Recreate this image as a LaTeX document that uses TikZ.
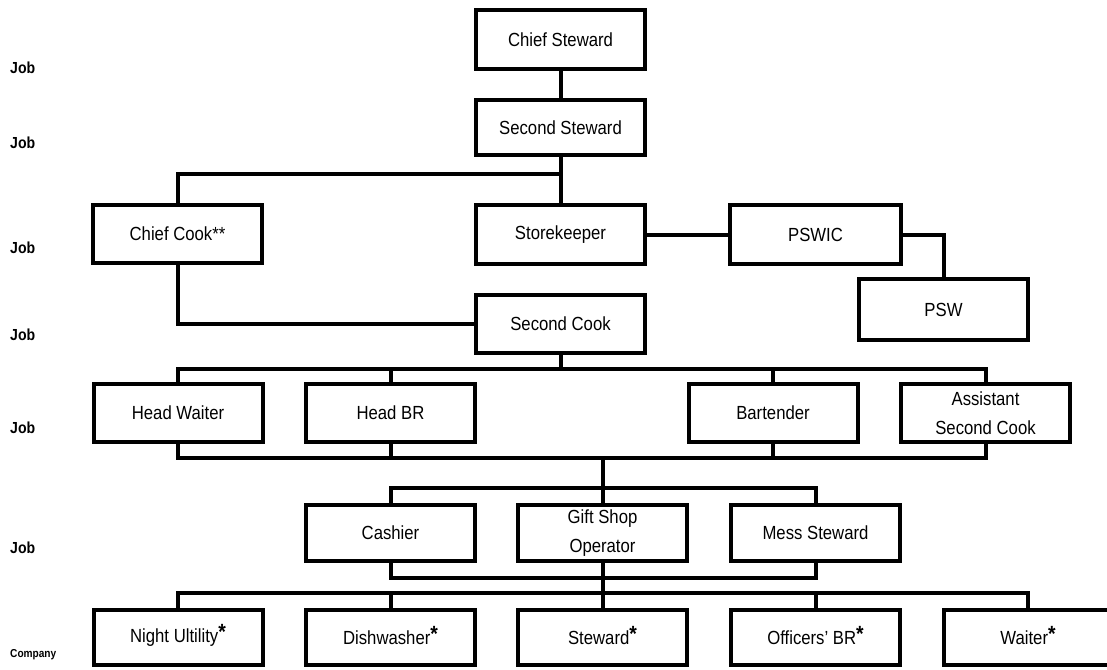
\documentclass[tikz,border=0pt]{standalone}
\usepackage{fontspec}
\setmainfont{Liberation Sans}[FakeStretch=0.88]
\newcommand{\boxfont}{\fontsize{19}{28.5}\selectfont}
\newcommand{\myast}{\smash{\raisebox{2.5pt}{\fontsize{22}{22}\selectfont\bfseries *}}}
\tikzset{
  orgbox/.style={draw, line width=4pt, minimum width=169pt, minimum height=58pt,
    inner sep=0pt, align=center, font=\boxfont},
  conn/.style={line width=4pt},
  joblabel/.style={anchor=west, inner sep=0pt, font=\fontsize{16}{18}\selectfont\bfseries},
  complabel/.style={anchor=west, inner sep=0pt, font=\fontsize{11.5}{13}\selectfont\bfseries}
}
\begin{document}
\begin{tikzpicture}[x=1pt, y=-1pt]
\useasboundingbox (0,0) rectangle (1107,669);
\clip (0,0) rectangle (1107,669);

% row labels
\node[joblabel] (l1) at (10,68) {Job};
\node[joblabel] (l2) at (10,143) {Job};
\node[joblabel] (l3) at (10,248) {Job};
\node[joblabel] (l4) at (10,335) {Job};
\node[joblabel] (l5) at (10,428) {Job};
\node[joblabel] (l6) at (10,548) {Job};
\node[complabel] (l7) at (10,655) {Company};

% boxes
\node[orgbox, minimum height=59pt] (chief) at (560.5,39.5) {Chief Steward};
\node[orgbox, minimum height=55pt] (ss) at (560.5,127.5) {Second Steward};
\node[orgbox] (cc) at (177.5,234) {Chief Cook**};
\node[orgbox, minimum height=59pt] (sk) at (560.5,234.5) {Storekeeper};
\node[orgbox, minimum width=171pt, minimum height=59pt] (pswic) at (815.5,234.5) {PSWIC};
\node[orgbox, minimum height=61pt] (psw) at (943.5,309.5) {PSW};
\node[orgbox] (scook) at (560.5,324) {Second Cook};

\node[orgbox] (hw) at (178,413) {Head Waiter};
\node[orgbox] (hbr) at (390.5,413) {Head BR};
\node[orgbox] (bt) at (773,413) {Bartender};
\node[orgbox] (asc) at (985.5,413) {Assistant\\Second Cook};

\node[orgbox, minimum height=56pt] (cash) at (390.5,533) {Cashier};
\node[orgbox, minimum height=56pt] (gso) at (602.5,533) {Gift Shop\\Operator};
\node[orgbox, minimum height=56pt] (mess) at (815.5,533) {Mess Steward};

\node[orgbox, minimum height=55pt] (nu) at (178,637.5) {Night Ultility\myast};
\node[orgbox, minimum height=55pt] (dw) at (390.5,637.5) {Dishwasher\myast};
\node[orgbox, minimum height=55pt] (st) at (602.5,637.5) {Steward\myast};
\node[orgbox, minimum height=55pt] (obr) at (815.5,637.5) {Officers' BR\myast};
\node[orgbox, minimum height=55pt] (wt) at (1028,637.5) {Waiter\myast};

% connectors
\draw[conn] (chief) -- (ss);
\draw[conn] (ss) -- (sk);
\draw[conn] (cc.north) |- (ss.south |- 0,174);
\draw[conn] (sk) -- (pswic);
\draw[conn] (pswic.east) -| (psw.north);
\draw[conn] (cc.south) |- (scook.west);

% head row buses
\draw[conn] (hw.north) |- (asc.north |- 0,369) -- (asc.north);
\draw[conn] (scook.south) -- (scook.south |- 0,369);
\draw[conn] (hbr.north) -- (hbr.north |- 0,369);
\draw[conn] (bt.north) -- (bt.north |- 0,369);
\draw[conn] (hw.south) |- (asc.south |- 0,458) -- (asc.south);
\draw[conn] (hbr.south) -- (hbr.south |- 0,458);
\draw[conn] (bt.south) -- (bt.south |- 0,458);

% cashier row buses
\draw[conn] (gso.north |- 0,458) -- (gso.north);
\draw[conn] (cash.north) |- (mess.north |- 0,488) -- (mess.north);
\draw[conn] (cash.south) |- (mess.south |- 0,578) -- (mess.south);
\draw[conn] (gso.south) -- (st.north);

% bottom row bus
\draw[conn] (nu.north) |- (wt.north |- 0,593) -- (wt.north);
\draw[conn] (dw.north) -- (dw.north |- 0,593);
\draw[conn] (obr.north) -- (obr.north |- 0,593);
\end{tikzpicture}
\end{document}
